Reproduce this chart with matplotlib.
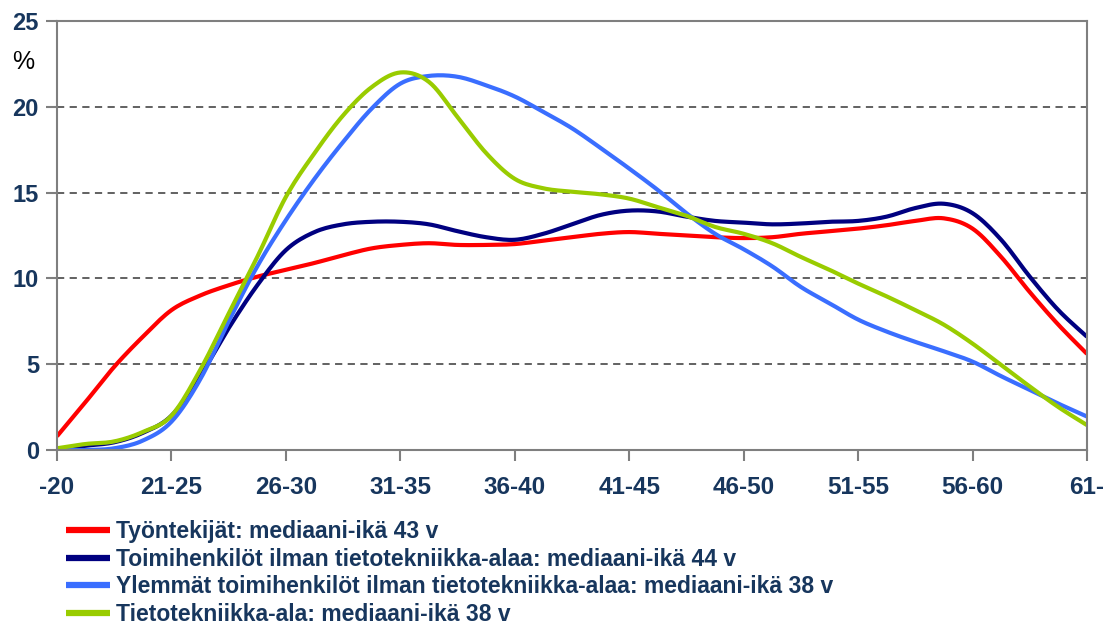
import numpy as np
import matplotlib
matplotlib.use("Agg")
import matplotlib.pyplot as plt

plt.rcParams['font.family'] = ['Liberation Sans', 'DejaVu Sans']

# age groups (category labels on the x axis)
age_groups = ['-20', '21-25', '26-30', '31-35', '36-40', '41-45',
              '46-50', '51-55', '56-60', '61-']

# values every quarter category
pos = np.arange(0, 9.01, 0.25)

tyontekijat = [0.8, 2.8, 4.85, 6.6, 8.15, 9.0, 9.6, 10.1, 10.5, 10.9, 11.35, 11.75,
               11.95, 12.05, 11.95, 11.95, 12.0, 12.2, 12.4, 12.6, 12.7, 12.6, 12.5,
               12.4, 12.35, 12.4, 12.6, 12.75, 12.9, 13.1, 13.35, 13.5, 12.9, 11.25,
               9.2, 7.3, 5.6]
toimihenkilot = [0.05, 0.25, 0.45, 1.0, 2.0, 4.3, 7.1, 9.6, 11.65, 12.7, 13.15, 13.3,
                 13.3, 13.15, 12.75, 12.4, 12.25, 12.6, 13.15, 13.7, 13.95, 13.9, 13.6,
                 13.35, 13.25, 13.15, 13.2, 13.3, 13.35, 13.6, 14.1, 14.35, 13.8, 12.25,
                 10.1, 8.15, 6.6]
ylemmat = [0.0, 0.0, 0.1, 0.55, 1.65, 4.1, 7.5, 10.7, 13.4, 15.8, 17.95, 19.9,
           21.35, 21.8, 21.75, 21.25, 20.6, 19.7, 18.75, 17.6, 16.4, 15.15, 13.8,
           12.6, 11.7, 10.7, 9.5, 8.55, 7.6, 6.9, 6.3, 5.75, 5.15, 4.3,
           3.5, 2.7, 1.95]
tietotekniikka = [0.1, 0.35, 0.5, 1.05, 2.0, 4.65, 7.95, 11.25, 14.75, 17.3, 19.5, 21.15,
                  22.0, 21.45, 19.4, 17.3, 15.8, 15.25, 15.05, 14.9, 14.65, 14.15, 13.65,
                  13.0, 12.6, 12.05, 11.25, 10.5, 9.7, 8.95, 8.15, 7.3, 6.2, 4.95,
                  3.7, 2.5, 1.45]

labels = ['Työntekijät: mediaani-ikä 43 v',
          'Toimihenkilöt ilman tietotekniikka-alaa: mediaani-ikä 44 v',
          'Ylemmät toimihenkilöt ilman tietotekniikka-alaa: mediaani-ikä 38 v',
          'Tietotekniikka-ala: mediaani-ikä 38 v']
colors = ['#FF0000', '#000080', '#3A6EFF', '#99CC00']

text_col = '#17365D'


def smooth(x, y, n=10):
    # catmull-rom curve through the read points
    x = np.asarray(x, float)
    y = np.asarray(y, float)
    px = np.concatenate([[x[0]], x, [x[-1]]])
    py = np.concatenate([[y[0]], y, [y[-1]]])
    t = np.linspace(0, 1, n, endpoint=False)[:, None]
    out = []
    for p in (px, py):
        p0, p1, p2, p3 = p[:-3], p[1:-2], p[2:-1], p[3:]
        seg = 0.5 * (2 * p1 + (-p0 + p2) * t + (2 * p0 - 5 * p1 + 4 * p2 - p3) * t ** 2
                     + (-p0 + 3 * p1 - 3 * p2 + p3) * t ** 3)
        out.append(np.append(seg.T.ravel(), p[-2]))
    return out


fig = plt.figure(figsize=(11.13, 6.24), dpi=100)
ax = fig.add_axes([57 / 1113, 1 - 450 / 624, 1030 / 1113, 429 / 624])

for vals, c, lab in zip([tyontekijat, toimihenkilot, ylemmat, tietotekniikka], colors, labels):
    sx, sy = smooth(pos, vals)
    ax.plot(sx, sy, color=c, lw=3, label=lab, solid_capstyle='butt')

ax.set_xlim(0, 9)
ax.set_ylim(0, 25)
ax.set_yticks([0, 5, 10, 15, 20, 25])
ax.set_xticks(range(len(age_groups)))
ax.set_xticklabels(age_groups)
for y in [5, 10, 15, 20]:
    ax.axhline(y, color='#555555', lw=1.3, ls=(0, (4, 3)), zorder=0)

for s in ax.spines.values():
    s.set_color('#7f7f7f')
    s.set_linewidth(1.5)
ax.tick_params(axis='both', colors='#7f7f7f', width=1.5, length=8,
               labelcolor=text_col, labelsize=17)
ax.tick_params(axis='x', pad=11, labelsize=17.5)
ax.tick_params(axis='y', pad=5)
for t in ax.get_xticklabels() + ax.get_yticklabels():
    t.set_fontweight('bold')

fig.text(23 / 1113, 1 - 62 / 624, '%', fontsize=18, color='black', ha='center', va='center')

leg = fig.legend(loc='upper left', bbox_to_anchor=(66 / 1113, 1 - 520 / 624),
                 frameon=False, handlelength=1.9, handletextpad=0.3,
                 labelspacing=0.2, borderaxespad=0, borderpad=0,
                 prop={'size': 16.5, 'weight': 'bold'})
for t in leg.get_texts():
    t.set_color(text_col)
for l in leg.get_lines():
    l.set_linewidth(4.5)

fig.savefig('out.png', dpi=100)
